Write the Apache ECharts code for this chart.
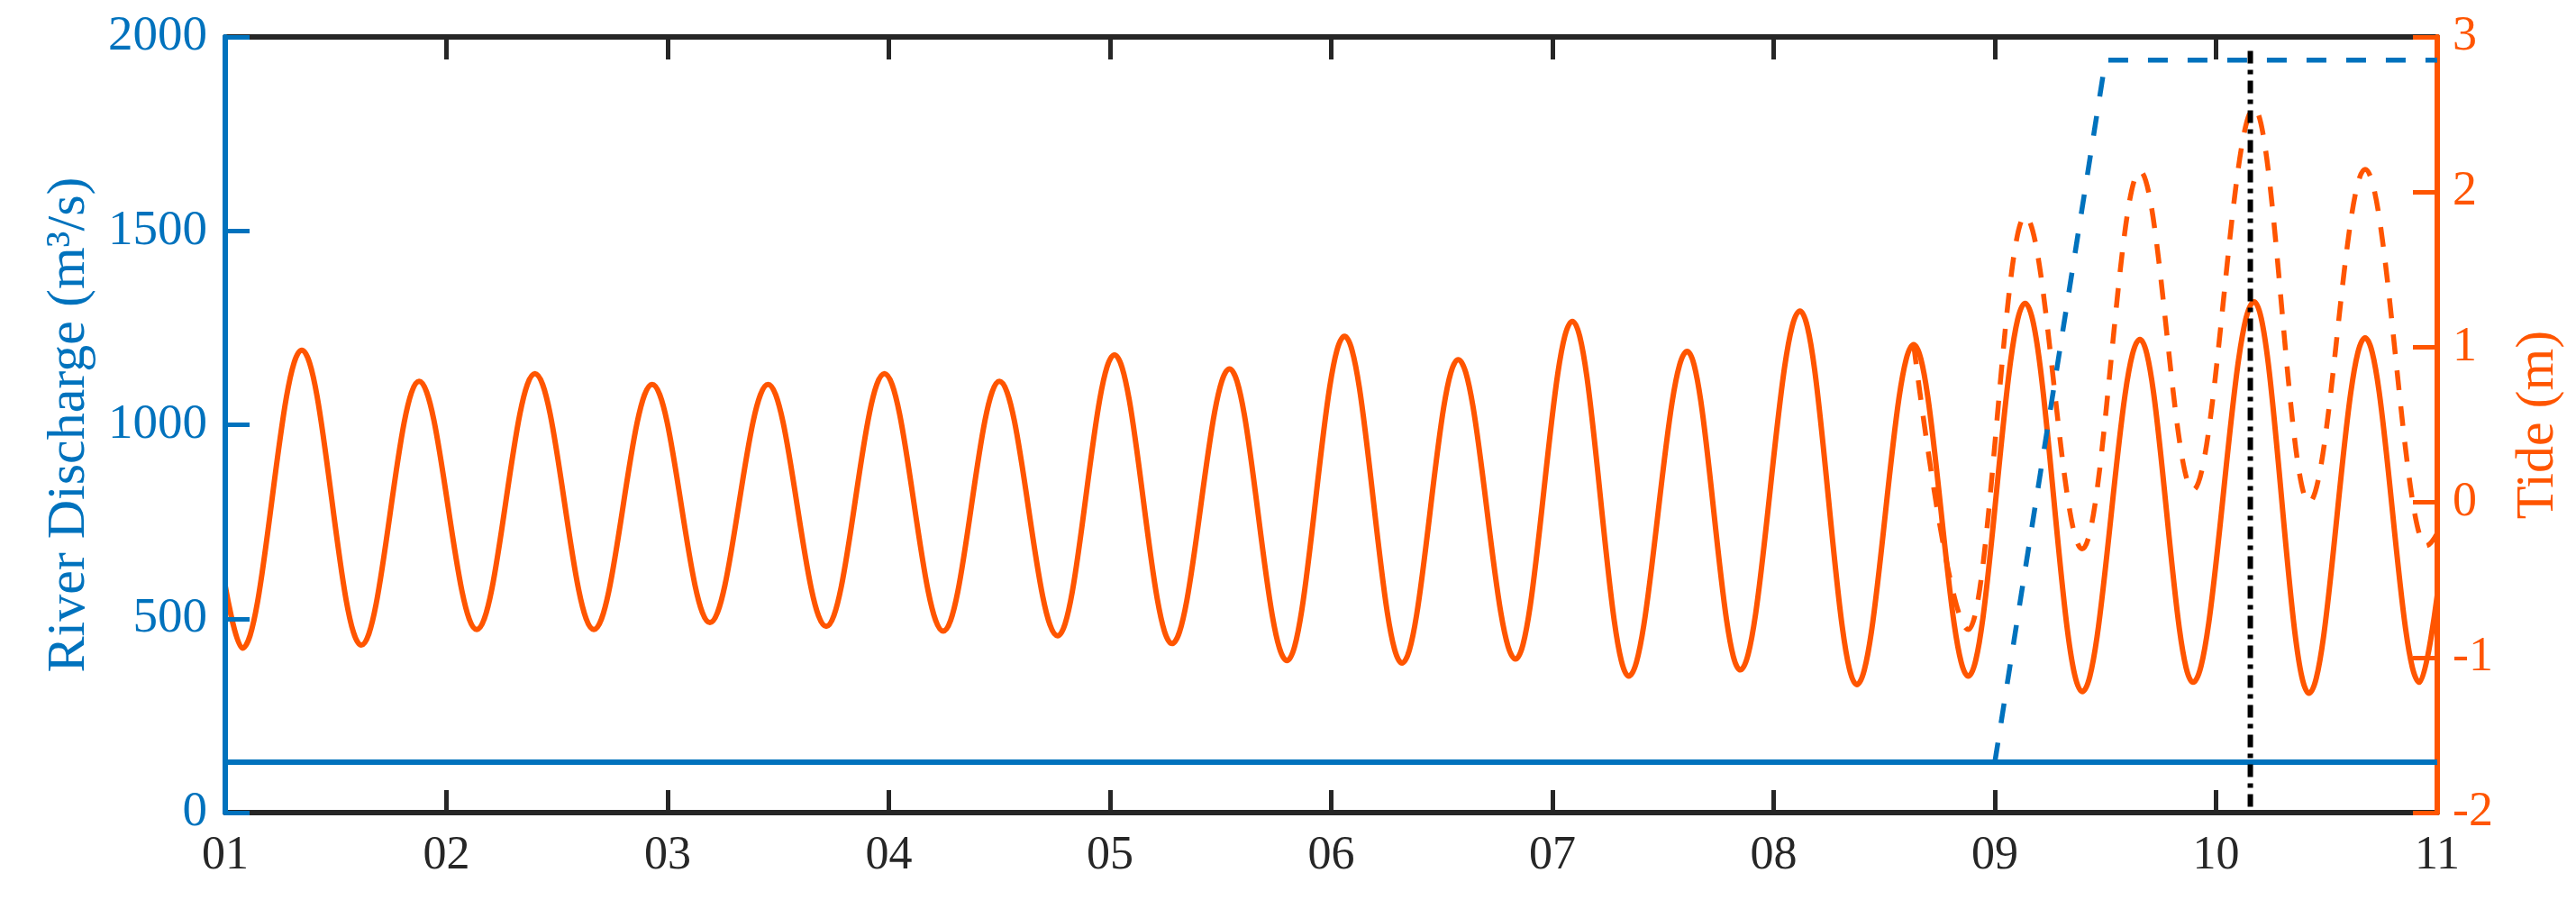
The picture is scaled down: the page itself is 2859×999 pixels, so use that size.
<!DOCTYPE html>
<html>
<head>
<meta charset="utf-8">
<script src="https://cdn.jsdelivr.net/npm/echarts@6/dist/echarts.min.js"></script>
<style>
html,body{margin:0;padding:0;background:#fff;}
#chart{width:2859px;height:999px;}
</style>
</head>
<body>
<div id="chart"></div>
<script>
// ---- data ----
const xTickValues = [1, 2, 3, 4, 5, 6, 7, 8, 9, 10, 11];
const xTickLabels = ['01','02','03','04','05','06','07','08','09','10','11'];

// River discharge (m3/s), left axis
const baseDischargeDays = [1, 11];
const baseDischargeValues = [130, 130];
const floodDischargeDays = [9, 9.5, 11];
const floodDischargeValues = [130, 1940, 1940];

// Tide (m), right axis: turning points of the observed tide
const tideDays = [1, 1.077, 1.346, 1.615, 1.876, 2.137, 2.40, 2.666, 2.93, 3.191, 3.454, 3.717, 3.98, 4.246, 4.50, 4.763, 5.02, 5.28, 5.54, 5.80, 6.06, 6.32, 6.574, 6.833, 7.09, 7.345, 7.609, 7.849, 8.119, 8.376, 8.633, 8.88, 9.137, 9.395, 9.656, 9.896, 10.172, 10.42, 10.674, 10.92, 11];
const tideValues = [-0.54, -0.94, 0.98, -0.92, 0.78, -0.82, 0.83, -0.82, 0.76, -0.775, 0.76, -0.80, 0.83, -0.83, 0.78, -0.86, 0.95, -0.91, 0.86, -1.02, 1.07, -1.036, 0.92, -1.01, 1.167, -1.12, 0.973, -1.08, 1.233, -1.175, 1.017, -1.12, 1.283, -1.22, 1.05, -1.16, 1.293, -1.23, 1.06, -1.16, -0.6];

// Tide (m), right axis: turning points of the surge-affected tide (dashed)
const surgeTideDays = [8.633, 8.88, 9.137, 9.395, 9.656, 9.896, 10.172, 10.42, 10.674, 10.95, 11];
const surgeTideValues = [1.017, -0.82, 1.844, -0.30, 2.135, 0.08, 2.54, 0.0, 2.146, -0.28, -0.2];

// Vertical marker (dash-dot), on the discharge axis
const markerDay = 10.155;
const markerRange = [15, 1975];

// ---- styling ----
const BLUE = '#0072BD';
const ORANGE = '#FF5500';
const DARK = '#262626';
const FONT = 'Liberation Serif';

const pairs = (xs, ys) => xs.map((x, i) => [x, ys[i]]);

const chart = echarts.init(document.getElementById('chart'), null, {renderer: 'canvas'});

const xCommon = {
  type: 'value', min: 1, max: 11, interval: 1,
  splitLine: {show: false},
  axisLine: {show: true, onZero: false, lineStyle: {color: DARK, width: 6}},
  axisTick: {show: true, inside: true, length: 25, lineStyle: {color: DARK, width: 5}},
};

chart.setOption({
  animation: false,
  backgroundColor: '#fff',
  grid: {left: 250, right: 154, top: 41, bottom: 97, containLabel: false},
  xAxis: [
    Object.assign({}, xCommon, {
      position: 'bottom',
      axisLabel: {
        show: true, margin: 22, color: DARK, fontFamily: FONT, fontSize: 52,
        formatter: v => xTickLabels[xTickValues.indexOf(v)] ?? ''
      }
    }),
    Object.assign({}, xCommon, {
      position: 'top',
      axisLabel: {show: false}
    })
  ],
  yAxis: [
    {
      type: 'value', min: 0, max: 2000, interval: 500, position: 'left', z: 3,
      name: 'River Discharge (m³/s)', nameLocation: 'middle', nameGap: 143, nameRotate: 90,
      nameTextStyle: {color: BLUE, fontFamily: FONT, fontSize: 60},
      splitLine: {show: false},
      axisLine: {show: true, onZero: false, lineStyle: {color: BLUE, width: 6}},
      axisTick: {show: true, inside: true, length: 27, lineStyle: {color: BLUE, width: 5}},
      axisLabel: {margin: 20, color: BLUE, fontFamily: FONT, fontSize: 55, formatter: v => String(v)}
    },
    {
      type: 'value', min: -2, max: 3, interval: 1, position: 'right', z: 3,
      name: 'Tide (m)', nameLocation: 'middle', nameGap: 82, nameRotate: 90,
      nameTextStyle: {color: ORANGE, fontFamily: FONT, fontSize: 60},
      splitLine: {show: false},
      axisLine: {show: true, onZero: false, lineStyle: {color: ORANGE, width: 6}},
      axisTick: {show: true, inside: true, length: 27, lineStyle: {color: ORANGE, width: 5}},
      axisLabel: {margin: 17, color: ORANGE, fontFamily: FONT, fontSize: 54, formatter: v => String(v)}
    }
  ],
  series: [
    {
      type: 'line', yAxisIndex: 1, data: pairs(tideDays, tideValues),
      smooth: 0.36, smoothMonotone: 'x', showSymbol: false, z: 2,
      lineStyle: {color: ORANGE, width: 6}
    },
    {
      type: 'line', yAxisIndex: 1, data: pairs(surgeTideDays, surgeTideValues),
      smooth: 0.36, smoothMonotone: 'x', showSymbol: false, z: 2,
      lineStyle: {color: ORANGE, width: 5.5, type: [22, 18]}
    },
    {
      type: 'line', yAxisIndex: 0, data: pairs(baseDischargeDays, baseDischargeValues),
      showSymbol: false, z: 3,
      lineStyle: {color: BLUE, width: 6}
    },
    {
      type: 'line', yAxisIndex: 0, data: pairs(floodDischargeDays, floodDischargeValues),
      showSymbol: false, z: 3,
      lineStyle: {color: BLUE, width: 5.5, type: [22, 22]}
    },
    {
      type: 'line', yAxisIndex: 0, data: markerRange.map(v => [markerDay, v]),
      showSymbol: false, z: 4,
      lineStyle: {color: '#000', width: 6, type: [14, 7, 5, 7]}
    }
  ]
});
</script>
</body>
</html>
